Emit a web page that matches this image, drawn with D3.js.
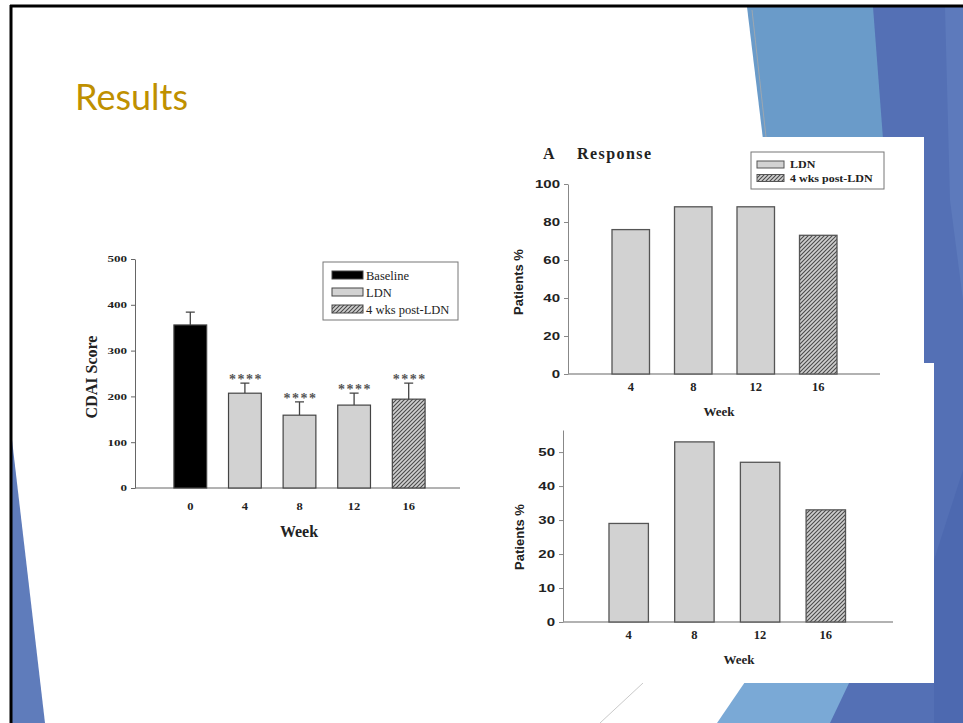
<!DOCTYPE html>
<html><head><meta charset="utf-8">
<script src="https://cdn.jsdelivr.net/npm/d3@7"></script>
<style>html,body{margin:0;padding:0;background:#fff;overflow:hidden}</style>
</head><body><svg id="s" width="963" height="723"></svg>
<script>
// ---------- data ----------
const leftWeeks = ["0", "4", "8", "12", "16"];
const leftMeans = [356, 207, 159, 181, 194];
const leftErrors = [28, 22, 29, 26, 35];
const leftGroups = ["Baseline", "LDN", "LDN", "LDN", "4 wks post-LDN"];
const leftStars = ["", "****", "****", "****", "****"];
const leftTicks = [0, 100, 200, 300, 400, 500];
const leftLegend = ["Baseline", "LDN", "4 wks post-LDN"];

const rightWeeks = ["4", "8", "12", "16"];
const rightGroups = ["LDN", "LDN", "LDN", "4 wks post-LDN"];
const responseValues = [76, 88, 88, 73];
const responseTicks = [0, 20, 40, 60, 80, 100];
const remissionValues = [29, 53, 47, 33];
const remissionTicks = [0, 10, 20, 30, 40, 50];
const rightLegend = ["LDN", "4 wks post-LDN"];

const svg = d3.select("#s");
const defs = svg.append("defs");
const hatch = defs.append("pattern").attr("id", "hatch").attr("patternUnits", "userSpaceOnUse")
  .attr("width", 4).attr("height", 4);
hatch.append("rect").attr("width", 4).attr("height", 4).attr("fill", "#cfcfcf");
hatch.append("path").attr("d", "M-1,1 l2,-2 M0,4 l4,-4 M3,5 l2,-2")
  .attr("stroke", "#4a4a4a").attr("stroke-width", 1.1);

const fillFor = g => g === "Baseline" ? "#000" : (g === "LDN" ? "#d2d2d2" : "url(#hatch)");

// ---------- slide background ----------
svg.append("rect").attr("width", 963).attr("height", 723).attr("fill", "#fff");
const deco = svg.append("g");
deco.append("polygon").attr("points", "870,7 963,7 963,723 820,723").attr("fill", "#5470b5");
deco.append("polygon").attr("points", "945,7 963,7 963,300 950,200").attr("fill", "#5d7abc");
deco.append("polygon").attr("points", "747,7 873,7 900,363 790,363").attr("fill", "#6a9bc9");
deco.append("polygon").attr("points", "934,560 963,470 963,723 934,723").attr("fill", "#4d69b0");
deco.append("polygon").attr("points", "760,660 860,660 830,723 717,723").attr("fill", "#7aa9d6");
deco.append("polygon").attr("points", "12,440 12,723 45,723").attr("fill", "#5f7cbb");
deco.append("line").attr("x1", 752).attr("y1", 10).attr("x2", 766).attr("y2", 137).attr("stroke", "#aaa").attr("stroke-width", 0.8);
deco.append("line").attr("x1", 643).attr("y1", 683).attr("x2", 600).attr("y2", 723).attr("stroke", "#bbb").attr("stroke-width", 0.8);
// white panels holding the right figures
deco.append("rect").attr("x", 500).attr("y", 137).attr("width", 424).attr("height", 226).attr("fill", "#fff");
deco.append("rect").attr("x", 500).attr("y", 363).attr("width", 434).attr("height", 320).attr("fill", "#fff");
// slide frame
deco.append("line").attr("x1", 10).attr("y1", 6).attr("x2", 963).attr("y2", 6).attr("stroke", "#000").attr("stroke-width", 3);
deco.append("line").attr("x1", 11).attr("y1", 5).attr("x2", 11).attr("y2", 723).attr("stroke", "#000").attr("stroke-width", 3);

svg.append("text").attr("x", 75).attr("y", 110).attr("fill", "#bf9000")
  .style("font-family", "Lato, 'Open Sans', sans-serif").style("font-size", "36px").text("Results");

function stretch(sel, f) {
  sel.each(function () {
    const w = this.getComputedTextLength();
    d3.select(this).attr("textLength", w * f).attr("lengthAdjust", "spacingAndGlyphs");
  });
}
const SERIF = "'Liberation Serif', 'Times New Roman', serif";
const SANS = "'Liberation Sans', Arial, sans-serif";

// ---------- left chart: CDAI score ----------
{
  const g = svg.append("g");
  const x = d3.scaleBand().domain(leftWeeks).range([163, 436]).paddingInner(0.4).paddingOuter(0.2);
  const y = d3.scaleLinear().domain([0, 500]).range([488, 259]);
  const ya = g.append("g").attr("transform", "translate(135,0)")
    .call(d3.axisLeft(y).tickValues(leftTicks).tickSize(4).tickSizeOuter(0).tickPadding(4));
  ya.select(".domain").attr("stroke", "#666");
  ya.selectAll(".tick line").attr("stroke", "#666");
  ya.selectAll("text").style("font-family", SERIF).style("font-weight", "bold").style("font-size", "9px").attr("fill", "#222");
  stretch(ya.selectAll("text"), 1.45);
  const xa = g.append("g").attr("transform", "translate(0,488)")
    .call(d3.axisBottom(x).tickSize(0).tickPadding(15));
  xa.select(".domain").remove();
  xa.selectAll("text").style("font-family", SERIF).style("font-weight", "bold").style("font-size", "10px").attr("fill", "#222");
  stretch(xa.selectAll("text"), 1.25);
  g.append("line").attr("x1", 135).attr("x2", 460).attr("y1", y(0)).attr("y2", y(0)).attr("stroke", "#666");

  const idx = d3.range(leftWeeks.length);
  g.selectAll(".err").data(idx).join("path").attr("class", "err")
    .attr("d", i => {
      const cx = x(leftWeeks[i]) + x.bandwidth() / 2, t = y(leftMeans[i] + leftErrors[i]);
      return `M${cx},${y(leftMeans[i])}V${t}M${cx - 4.5},${t}H${cx + 4.5}`;
    }).attr("stroke", "#444").attr("stroke-width", 1.3).attr("fill", "none");
  g.selectAll(".bar").data(idx).join("rect").attr("class", "bar")
    .attr("x", i => x(leftWeeks[i])).attr("width", x.bandwidth())
    .attr("y", i => y(leftMeans[i])).attr("height", i => y(0) - y(leftMeans[i]))
    .attr("fill", i => fillFor(leftGroups[i])).attr("stroke", "#444").attr("stroke-width", 1.2);
  g.selectAll(".star").data(idx.filter(i => leftStars[i])).join("text").attr("class", "star")
    .attr("x", i => x(leftWeeks[i]) + x.bandwidth() / 2 + 1).attr("y", i => y(leftMeans[i] + leftErrors[i]) + 1)
    .attr("text-anchor", "middle").style("font-family", SERIF).style("font-weight", "bold").style("font-size", "14px")
    .style("letter-spacing", "1.5px").attr("fill", "#555").text(i => leftStars[i]);

  g.append("text").attr("transform", "translate(97,377) rotate(-90)").attr("text-anchor", "middle")
    .style("font-family", SERIF).style("font-weight", "bold").style("font-size", "16px").attr("fill", "#222").text("CDAI Score");
  g.append("text").attr("x", 299).attr("y", 537).attr("text-anchor", "middle")
    .style("font-family", SERIF).style("font-weight", "bold").style("font-size", "16px").attr("fill", "#222").text("Week");

  const lg = g.append("g");
  lg.append("rect").attr("x", 323).attr("y", 262).attr("width", 135).attr("height", 58)
    .attr("fill", "#fff").attr("stroke", "#777").attr("stroke-width", 1);
  const rows = lg.selectAll(".li").data(leftLegend).join("g").attr("class", "li")
    .attr("transform", (d, i) => `translate(332,${275 + i * 17})`);
  rows.append("rect").attr("x", 0).attr("y", -4).attr("width", 31).attr("height", 8)
    .attr("fill", d => fillFor(d)).attr("stroke", "#444").attr("stroke-width", 1);
  rows.append("text").attr("x", 34).attr("y", 4.5).style("font-family", SERIF).style("font-size", "12.5px")
    .attr("fill", "#222").text(d => d);
}

// ---------- right charts ----------
function rightChart(opt) {
  const g = svg.append("g");
  const x = d3.scaleBand().domain(rightWeeks).range(opt.xr).paddingInner(0.4).paddingOuter(0.4);
  const y = d3.scaleLinear().domain([0, opt.ymax]).range(opt.yr);
  const ya = g.append("g").attr("transform", `translate(${opt.ax},0)`)
    .call(d3.axisLeft(y).tickValues(opt.ticks).tickSize(4).tickSizeOuter(0).tickPadding(4));
  ya.select(".domain").attr("stroke", "#888");
  ya.selectAll(".tick line").attr("stroke", "#888");
  ya.selectAll("text").style("font-family", SANS).style("font-weight", "bold").style("font-size", "10px").attr("fill", "#222");
  stretch(ya.selectAll("text"), 1.5);
  const xa = g.append("g").attr("transform", `translate(0,${opt.yr[0]})`)
    .call(d3.axisBottom(x).tickSize(0).tickPadding(8));
  xa.select(".domain").remove();
  xa.selectAll("text").style("font-family", SERIF).style("font-weight", "bold").style("font-size", "12.5px").attr("fill", "#222");
  g.append("line").attr("x1", opt.ax).attr("x2", opt.axEnd).attr("y1", y(0)).attr("y2", y(0)).attr("stroke", "#999").attr("stroke-width", 1.5);
  const idx = d3.range(rightWeeks.length);
  g.selectAll(".bar").data(idx).join("rect").attr("class", "bar")
    .attr("x", i => x(rightWeeks[i])).attr("width", x.bandwidth())
    .attr("y", i => y(opt.values[i])).attr("height", i => y(0) - y(opt.values[i]))
    .attr("fill", i => fillFor(rightGroups[i])).attr("stroke", "#555").attr("stroke-width", 1.3);
  g.append("text").attr("transform", `translate(${opt.labX},${opt.labY}) rotate(-90)`).attr("text-anchor", "middle")
    .style("font-family", SANS).style("font-weight", "bold").style("font-size", "13px").attr("fill", "#222").text("Patients %");
  g.append("text").attr("x", opt.weekX).attr("y", opt.weekY).attr("text-anchor", "middle")
    .style("font-family", SERIF).style("font-weight", "bold").style("font-size", "13px").attr("fill", "#222").text("Week");
  return g;
}

const topChart = rightChart({ xr: [587, 862], yr: [374, 184], ymax: 100, ticks: responseTicks, values: responseValues,
  ax: 568, axEnd: 880, labX: 523, labY: 282, weekX: 719, weekY: 416 });
topChart.append("text").attr("x", 543).attr("y", 159).style("font-family", SERIF).style("font-weight", "bold")
  .style("font-size", "16px").attr("fill", "#222").text("A");
topChart.append("text").attr("x", 577).attr("y", 159).style("font-family", SERIF).style("font-weight", "bold")
  .style("font-size", "16px").attr("fill", "#222").attr("textLength", 74).attr("lengthAdjust", "spacing").text("Response");
{
  const lg = topChart.append("g");
  lg.append("rect").attr("x", 751).attr("y", 152).attr("width", 133).attr("height", 37)
    .attr("fill", "#fff").attr("stroke", "#777").attr("stroke-width", 1);
  const rows = lg.selectAll(".li").data(rightLegend).join("g").attr("class", "li")
    .attr("transform", (d, i) => `translate(757,${164.5 + i * 13.5})`);
  rows.append("rect").attr("x", 0).attr("y", -3.5).attr("width", 27).attr("height", 7)
    .attr("fill", d => fillFor(d)).attr("stroke", "#555").attr("stroke-width", 1);
  const t = rows.append("text").attr("x", 33).attr("y", 3.5).style("font-family", SERIF).style("font-weight", "bold")
    .style("font-size", "10px").attr("fill", "#222").text(d => d);
  stretch(t, 1.2);
}

rightChart({ xr: [582.7, 871.8], yr: [622, 430], ymax: 56.5, ticks: remissionTicks, values: remissionValues,
  ax: 563, axEnd: 893, labX: 524, labY: 537, weekX: 739, weekY: 664 });
</script></body></html>
